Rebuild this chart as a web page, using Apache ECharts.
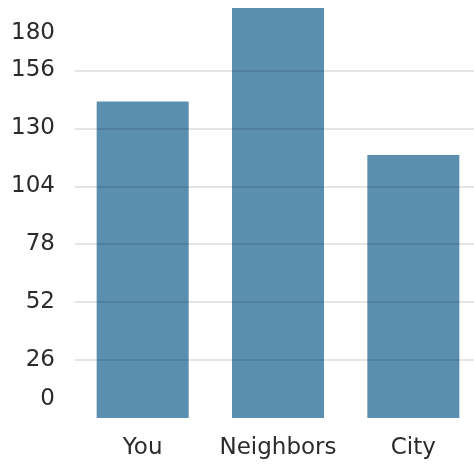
<!DOCTYPE html>
<html>
<head>
<meta charset="utf-8">
<script src="https://cdn.jsdelivr.net/npm/echarts@6/dist/echarts.min.js"></script>
<style>
  html, body { margin: 0; padding: 0; background: #fff; }
  #chart { width: 474px; height: 464px; }
</style>
</head>
<body>
<div id="chart"></div>
<script>
const categories = ["You", "Neighbors", "City"];
const values = [142, 184, 118];
const tickLabels = [0, 26, 52, 78, 104, 130, 156, 180];
const gridValues = [26, 52, 78, 104, 130, 156];

const labelFont = { color: "#2b2b2b", fontFamily: "DejaVu Sans", fontSize: 23 };

const chart = echarts.init(document.getElementById("chart"));
chart.setOption({
  backgroundColor: "#fff",
  animation: false,
  grid: {
    left: 75,
    width: 406,
    top: 8,
    bottom: 46,
    outerBoundsMode: "none",
    containLabel: false,
  },
  xAxis: {
    type: "category",
    data: categories,
    axisLine: { show: false },
    axisTick: { show: false },
    axisLabel: Object.assign({}, labelFont, {
      interval: 0,
      margin: 19,
    }),
  },
  yAxis: {
    type: "value",
    min: 0,
    max: 184,
    z: 3,
    axisLine: { show: false },
    axisTick: { show: false, customValues: gridValues },
    splitLine: {
      lineStyle: { color: "rgba(0,0,0,0.1)", width: 2 },
    },
    axisLabel: Object.assign({}, labelFont, {
      customValues: tickLabels,
      margin: 20,
      verticalAlignMaxLabel: "top",
      verticalAlignMinLabel: "bottom",
      formatter: (v) => (v === 0 ? "{min|0}" : v === 180 ? "{max|180}" : String(v)),
      rich: {
        min: Object.assign({}, labelFont, { padding: [0, 0, 7, 0] }),
        max: Object.assign({}, labelFont, { padding: [5, 0, 0, 0] }),
      },
    }),
  },
  series: [
    {
      type: "bar",
      data: values,
      barWidth: 92,
      itemStyle: { color: "#5b8fb0" },
    },
  ],
});
</script>
</body>
</html>
